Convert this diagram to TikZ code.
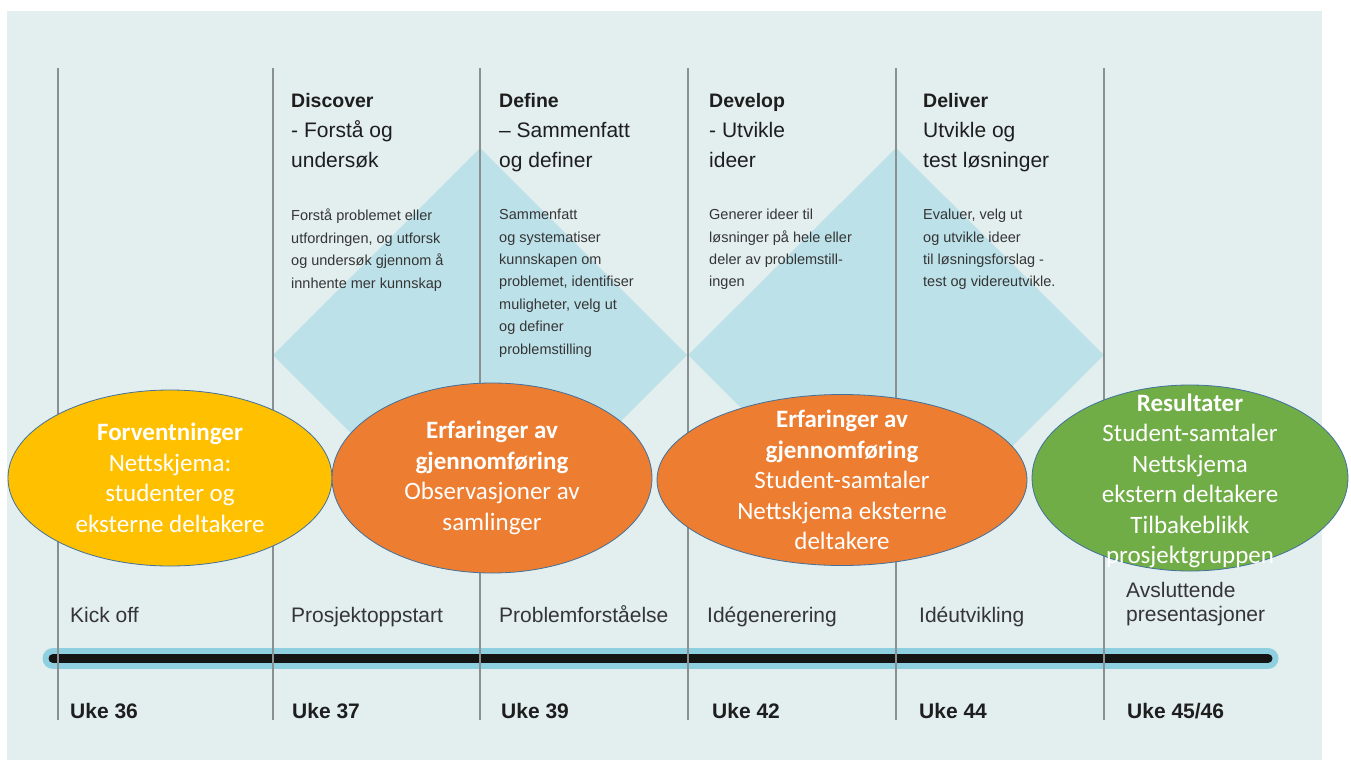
\documentclass[tikz,border=0pt]{standalone}
\usepackage{fontspec}
\setmainfont{Liberation Sans}
\newfontfamily\calfont{Carlito}
\usepackage{xcolor}
\usetikzlibrary{shapes.geometric}
\definecolor{pbg}{HTML}{E3EEEE}
\definecolor{pdiam}{HTML}{BDE1E9}
\definecolor{pbar}{HTML}{8FD0E0}
\definecolor{pline}{HTML}{8A9092}
\definecolor{ptext}{HTML}{1E1E1E}
\definecolor{pyellow}{HTML}{FFC000}
\definecolor{porange}{HTML}{ED7D31}
\definecolor{pgreen}{HTML}{70AD47}
\definecolor{pedge}{HTML}{41719C}
\newcommand{\phasehead}[1]{{\fontsize{19.5}{30}\selectfont\bfseries #1}}
\tikzset{
  phase/.style={anchor=north west, inner sep=0pt, align=left, text=ptext,
    font=\fontsize{21}{30}\selectfont},
  phasetxt/.style={anchor=north west, inner sep=0pt, align=left, text=ptext!90,
    font=\fontsize{14.5}{22.4}\selectfont},
  milestone/.style={anchor=base west, inner sep=0pt, text=ptext!90,
    font=\fontsize{21}{24}\selectfont},
  week/.style={anchor=base west, inner sep=0pt, text=ptext,
    font=\fontsize{21}{24}\selectfont\bfseries},
  bubble/.style={ellipse, draw=pedge, line width=0.8pt, inner sep=0pt},
  bubbletxt/.style={align=center, text=white, inner sep=0pt,
    font=\calfont\fontsize{25}{30.5}\selectfont}
}
\begin{document}
\begin{tikzpicture}[x=1pt, y=-1pt]
\useasboundingbox (0,0) rectangle (1351,760);
\fill[white] (0,0) rectangle (1351,760);
\fill[pbg] (7,11) rectangle (1322,760);
\fill[pdiam] (480,148) -- (687,355) -- (480,562) -- (273,355) -- cycle;
\fill[pdiam] (896,148) -- (1104,355) -- (896,562) -- (688,355) -- cycle;
\coordinate (barstart) at (53,658.5);
\coordinate (barend) at (1268,658.5);
\draw[pbar, line width=21pt, line cap=round] (barstart) -- (barend);
\draw[black!92, line width=9pt, line cap=round] (barstart) -- (barend);
\draw[pline, line width=1.1pt] (58,68) -- (58,720);
\draw[pline, line width=1.1pt] (273,68) -- (273,720);
\draw[pline, line width=1.1pt] (480,68) -- (480,720);
\draw[pline, line width=1.1pt] (688,68) -- (688,720);
\draw[pline, line width=1.1pt] (896,68) -- (896,720);
\draw[pline, line width=1.1pt] (1104,68) -- (1104,720);
\node[phase] (discover) at (291,93) {\phasehead{Discover}\\- Forstå og\\undersøk};
\node[phase] (define) at (499,93) {\phasehead{Define}\\– Sammenfatt\\og definer};
\node[phase] (develop) at (709,93) {\phasehead{Develop}\\- Utvikle\\ideer};
\node[phase] (deliver) at (923,93) {\phasehead{Deliver}\\Utvikle og\\test løsninger};
\node[phasetxt] (discovertxt) at (291,209)
  {Forstå problemet eller\\utfordringen, og utforsk\\og undersøk gjennom å\\innhente mer kunnskap};
\node[phasetxt] (definetxt) at (499,209)
  {Sammenfatt\\og systematiser\\kunnskapen om\\problemet, identifiser\\muligheter, velg ut\\og definer\\problemstilling};
\node[phasetxt] (developtxt) at (709,209)
  {Generer ideer til\\løsninger på hele eller\\deler av problemstill-\\ingen};
\node[phasetxt] (delivertxt) at (923,209)
  {Evaluer, velg ut\\og utvikle ideer\\til løsningsforslag -\\test og videreutvikle.};
\node[bubble, fill=pyellow, minimum width=324, minimum height=176] (expect) at (170,478) {};
\node[bubble, fill=porange, minimum width=320, minimum height=190] (observe) at (492,478) {};
\node[bubble, fill=porange, minimum width=370, minimum height=171] (talks) at (842,480) {};
\node[bubble, fill=pgreen, minimum width=316, minimum height=186] (results) at (1190,478) {};
\node[bubbletxt] (expecttxt) at (expect.center)
  {\textbf{Forventninger}\\Nettskjema:\\studenter og\\eksterne deltakere};
\node[bubbletxt] (observetxt) at (observe.center)
  {\textbf{Erfaringer av}\\\textbf{gjennomføring}\\Observasjoner av\\samlinger};
\node[bubbletxt] (talkstxt) at (talks.center)
  {\textbf{Erfaringer av}\\\textbf{gjennomføring}\\Student-samtaler\\Nettskjema eksterne\\deltakere};
\node[bubbletxt] (resultstxt) at ([yshift=-3]results.center)
  {\textbf{Resultater}\\Student-samtaler\\Nettskjema\\ekstern deltakere\\Tilbakeblikk\\prosjektgruppen};
\node[milestone] (kickoff) at (70,622) {Kick off};
\node[milestone] (startup) at (291,622) {Prosjektoppstart};
\node[milestone] (problem) at (499,622) {Problemforståelse};
\node[milestone] (ideagen) at (707,622) {Idégenerering};
\node[milestone] (ideadev) at (919,622) {Idéutvikling};
\node[milestone, anchor=north west, align=left, font=\fontsize{21}{24}\selectfont]
  (present) at (1126,582) {Avsluttende\\presentasjoner};
\node[week] (uke36) at (70,718) {Uke 36};
\node[week] (uke37) at (292,718) {Uke 37};
\node[week] (uke39) at (501,718) {Uke 39};
\node[week] (uke42) at (712,718) {Uke 42};
\node[week] (uke44) at (919,718) {Uke 44};
\node[week] (uke4546) at (1127,718) {Uke 45/46};
\end{tikzpicture}
\end{document}
